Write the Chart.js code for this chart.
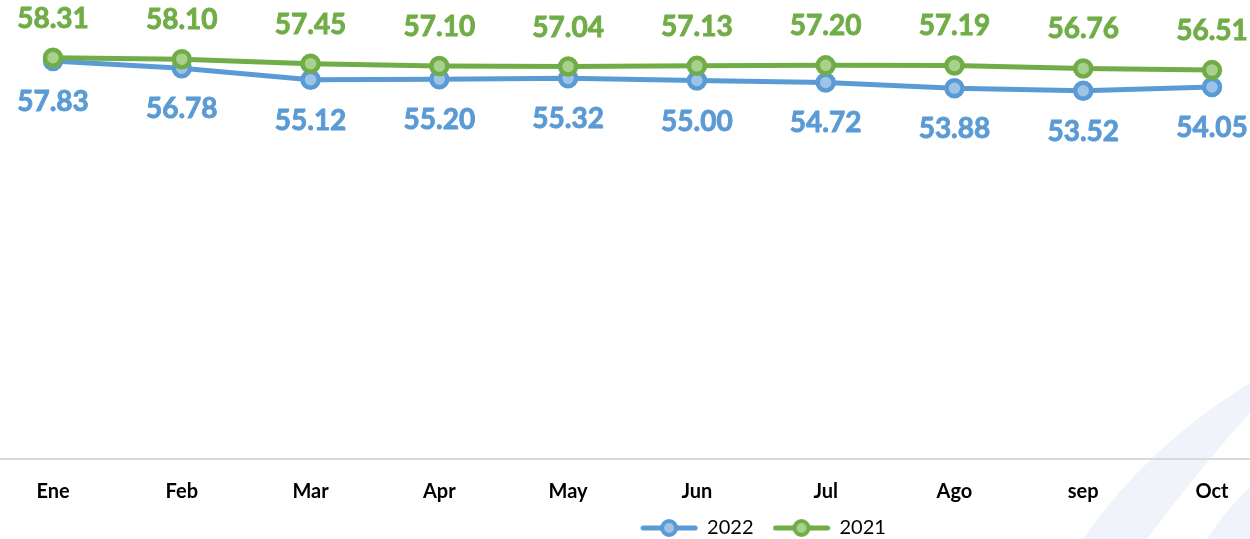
<!DOCTYPE html>
<html lang="es">
<head>
  <meta charset="UTF-8">
  <title>2022 vs 2021</title>
  <script src="https://cdn.jsdelivr.net/npm/chart.js"></script>
  <style>
    html, body { margin: 0; padding: 0; background: #fff; }
    .wrap { width: 1250px; height: 539px; position: relative; }
  </style>
</head>
<body>
<div class="wrap">
  <canvas id="chart"></canvas>
</div>

<script>
  const months = ['Ene', 'Feb', 'Mar', 'Apr', 'May', 'Jun', 'Jul', 'Ago', 'sep', 'Oct'];
  const values2022 = [57.83, 56.78, 55.12, 55.20, 55.32, 55.00, 54.72, 53.88, 53.52, 54.05];
  const values2021 = [58.31, 58.10, 57.45, 57.10, 57.04, 57.13, 57.20, 57.19, 56.76, 56.51];

  const BLUE = '#5B9BD5', BLUE_FILL = '#9DC3E6';
  const GREEN = '#70AD47', GREEN_FILL = '#A9D18E';
  const FONT = 'Lato, "Open Sans", sans-serif';

  // little line + marker image used as legend symbol
  function legendIcon(stroke, fill) {
    const c = document.createElement('canvas');
    c.width = 58; c.height = 22;
    const g = c.getContext('2d');
    g.strokeStyle = stroke;
    g.lineWidth = 5;
    g.lineCap = 'round';
    g.beginPath(); g.moveTo(3, 11); g.lineTo(55, 11); g.stroke();
    g.beginPath(); g.arc(29, 11, 7, 0, Math.PI * 2);
    g.fillStyle = fill; g.fill();
    g.lineWidth = 4; g.stroke();
    return c;
  }

  // faint decorative swoosh in the lower right corner
  const backdrop = {
    id: 'backdrop',
    beforeDraw(chart) {
      const g = chart.ctx;
      g.save();
      g.fillStyle = '#f0f3f9';
      g.beginPath();
      g.moveTo(1250, 383);
      g.quadraticCurveTo(1148, 445, 1083, 539);
      g.lineTo(1147, 539);
      g.quadraticCurveTo(1205, 462, 1250, 413);
      g.closePath();
      g.fill();
      g.beginPath();
      g.moveTo(1250, 487);
      g.quadraticCurveTo(1224, 512, 1207, 539);
      g.lineTo(1250, 539);
      g.closePath();
      g.fill();
      g.restore();
    }
  };

  // full-width x axis line
  const axisLine = {
    id: 'axisLine',
    beforeDatasetsDraw(chart) {
      const g = chart.ctx;
      const y = chart.chartArea.bottom;
      g.save();
      g.strokeStyle = '#d9d9d9';
      g.lineWidth = 2;
      g.beginPath(); g.moveTo(0, y); g.lineTo(chart.width, y); g.stroke();
      g.restore();
    }
  };

  // value labels: 2021 above the points, 2022 below
  const valueLabels = {
    id: 'valueLabels',
    afterDatasetsDraw(chart) {
      const g = chart.ctx;
      g.save();
      g.font = 'bold 28px ' + FONT;
      g.textAlign = 'center';
      g.textBaseline = 'middle';
      g.lineWidth = 0.9;
      chart.data.datasets.forEach((ds, i) => {
        const meta = chart.getDatasetMeta(i);
        const dy = ds.labelSide === 'above' ? -39 : 41;
        g.fillStyle = ds.borderColor;
        g.strokeStyle = ds.borderColor;
        meta.data.forEach((pt, j) => {
          const t = ds.data[j].toFixed(2);
          g.fillText(t, pt.x, pt.y + dy);
          g.strokeText(t, pt.x, pt.y + dy);
        });
      });
      g.restore();
    }
  };

  // keep the legend short in the layout, then place it right/down as in the original
  const legendPlace = {
    id: 'legendPlace',
    beforeLayout(chart) {
      const lg = chart.legend;
      if (lg && !lg._fitPatched) {
        const fit = lg.fit.bind(lg);
        lg.fit = function () { fit(); this.height = 28; };
        lg._fitPatched = true;
      }
    },
    afterLayout(chart) {
      const lg = chart.legend;
      const dx = 131;
      lg.left += dx; lg.right += dx;
      lg.top = 498; lg.bottom = chart.height;
      lg.height = lg.bottom - lg.top;
    }
  };

  new Chart(document.getElementById('chart'), {
    type: 'line',
    data: {
      labels: months,
      datasets: [
        {
          label: '2022',
          data: values2022,
          borderColor: BLUE,
          backgroundColor: BLUE_FILL,
          pointBackgroundColor: BLUE_FILL,
          pointBorderColor: BLUE,
          labelSide: 'below',
          icon: legendIcon(BLUE, BLUE_FILL),
          order: 2
        },
        {
          label: '2021',
          data: values2021,
          borderColor: GREEN,
          backgroundColor: GREEN_FILL,
          pointBackgroundColor: GREEN_FILL,
          pointBorderColor: GREEN,
          labelSide: 'above',
          icon: legendIcon(GREEN, GREEN_FILL),
          order: 1
        }
      ]
    },
    options: {
      responsive: true,
      maintainAspectRatio: false,
      animation: false,
      layout: { autoPadding: false, padding: { left: 53, right: 38, top: 0, bottom: 0 } },
      elements: {
        line: { borderWidth: 5, tension: 0 },
        point: { radius: 8, borderWidth: 4.5, hoverRadius: 8 }
      },
      scales: {
        x: {
          offset: false,
          grid: { display: false },
          border: { display: false },
          ticks: {
            color: '#000',
            padding: 13,
            font: { family: FONT, size: 20, weight: 'bold' }
          },
          afterFit(s) { s.height = 52; }
        },
        y: {
          display: false,
          min: 0,
          max: 66.7
        }
      },
      plugins: {
        tooltip: { enabled: false },
        legend: {
          position: 'bottom',
          labels: {
            usePointStyle: true,
            pointStyleWidth: 56,
            boxHeight: 19,
            padding: 20,
            color: '#000',
            font: { family: FONT, size: 20 },
            generateLabels(chart) {
              return chart.data.datasets.map((ds, i) => ({
                text: ds.label,
                pointStyle: ds.icon,
                fillStyle: ds.borderColor,
                strokeStyle: ds.borderColor,
                lineWidth: 0,
                hidden: false,
                datasetIndex: i,
                fontColor: '#000'
              }));
            }
          }
        }
      }
    },
    plugins: [backdrop, axisLine, valueLabels, legendPlace]
  });
</script>
</body>
</html>
